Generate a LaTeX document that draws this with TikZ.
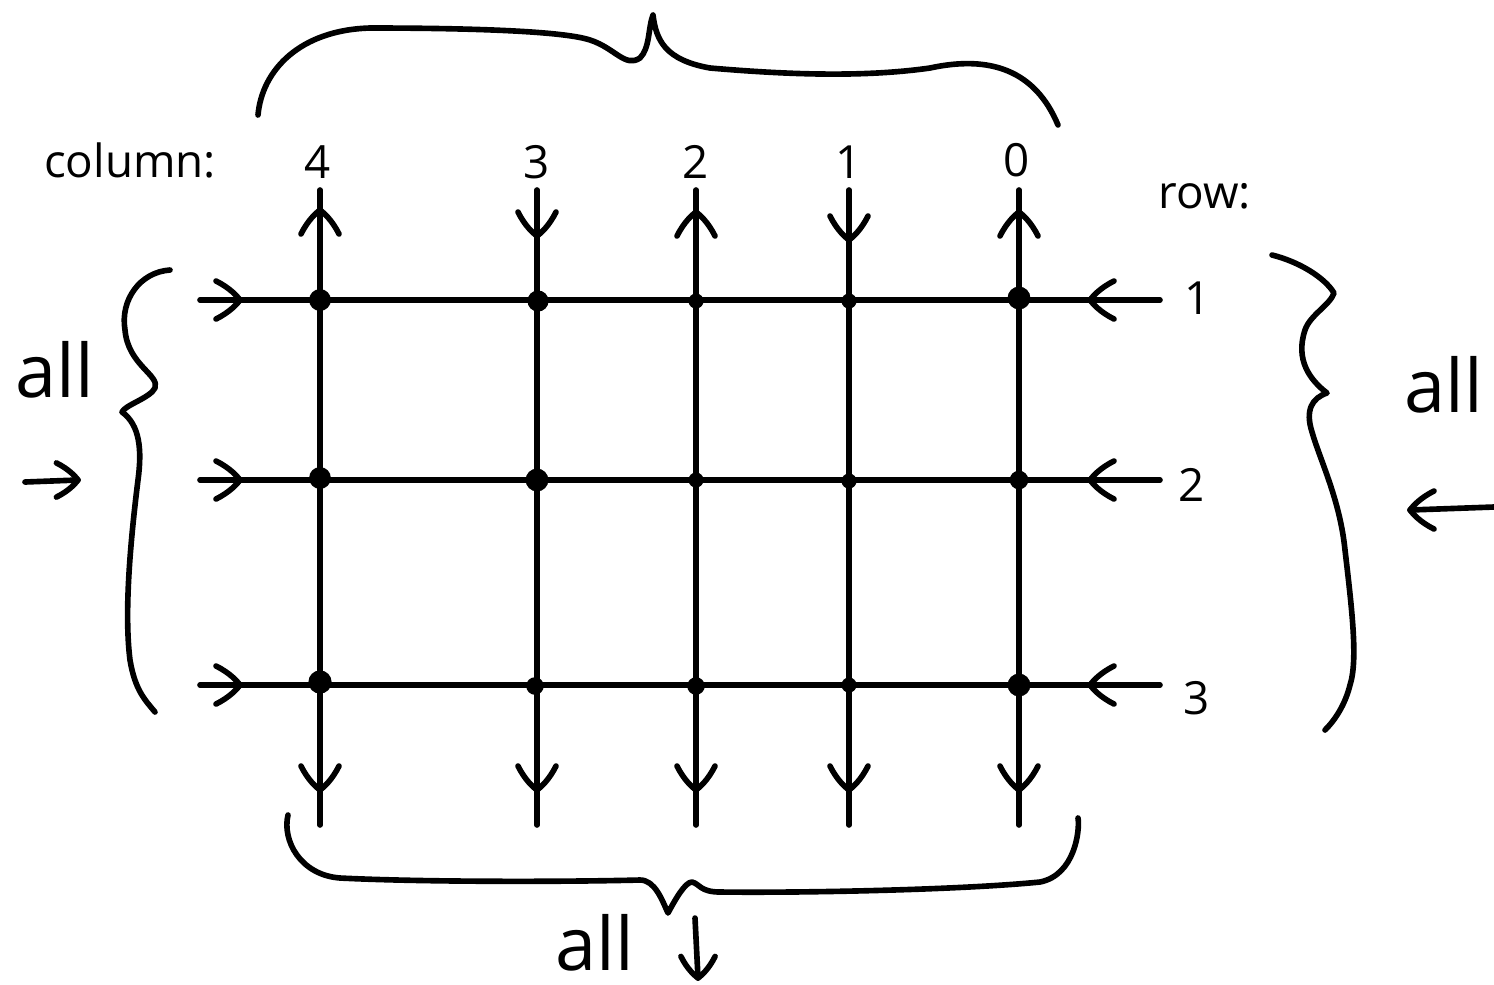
\documentclass[tikz,border=0pt]{standalone}
\usepackage{fontspec}
\setmainfont{Open Sans}
\begin{document}
\begin{tikzpicture}[x=0.01cm,y=-0.01cm,line width=1.6pt,line cap=round,line join=round,
  dotnode/.style={circle,fill=black,inner sep=0pt,minimum size=#1},
  lab/.style={font=\fontsize{13}{15}\selectfont,inner sep=1pt},
  biglab/.style={font=\fontsize{21}{24}\selectfont,inner sep=1pt},
  chev/.pic={\draw (-24,-19) .. controls (-10,-12) and (-3,-4) .. (0,0) .. controls (-3,4) and (-10,12) .. (-24,19);}]
\useasboundingbox (0,0) rectangle (1494,984);
\clip (0,0) rectangle (1494,984);
% column and row end points
\foreach \n/\x in {4/320,3/537,2/696,1/849,0/1019}{
  \coordinate (c\n t) at (\x,190);
  \coordinate (c\n b) at (\x,825);
}
\foreach \n/\y in {1/300,2/480,3/685}{
  \coordinate (r\n l) at (200,\y);
  \coordinate (r\n r) at (1160,\y);
}
% grid lines
\foreach \n in {4,3,2,1,0}{ \draw (c\n t) -- (c\n b); }
\foreach \n in {1,2,3}{ \draw (r\n l) -- (r\n r); }
% arrow heads on rows
\foreach \y in {300,480,685}{
  \pic at (240,\y) {chev};
  \pic[rotate=180] at (1090,\y) {chev};
}
% arrow heads on columns (top)
\pic[rotate=90] at (320,210) {chev};
\pic[rotate=-90] at (537,236) {chev};
\pic[rotate=90] at (696,212) {chev};
\pic[rotate=-90] at (849,240) {chev};
\pic[rotate=90] at (1019,212) {chev};
% arrow heads on columns (bottom)
\foreach \x in {320,537,696,849,1019}{ \pic[rotate=-90] at (\x,790) {chev}; }
% dots
\node[dotnode=6.2pt] (d41) at (320,300) {};
\node[dotnode=6pt] (d31) at (538,301) {};
\node[dotnode=4.3pt] (d21) at (696,301) {};
\node[dotnode=4.3pt] (d11) at (849,301) {};
\node[dotnode=6.5pt] (d01) at (1019,298) {};
\node[dotnode=6.2pt] (d42) at (320,478) {};
\node[dotnode=6.5pt] (d32) at (537,480) {};
\node[dotnode=4.3pt] (d22) at (696,480) {};
\node[dotnode=4.3pt] (d12) at (849,481) {};
\node[dotnode=5.3pt] (d02) at (1019,480) {};
\node[dotnode=6.6pt] (d43) at (320,682) {};
\node[dotnode=5pt] (d33) at (535,686) {};
\node[dotnode=5pt] (d23) at (696,686) {};
\node[dotnode=4.3pt] (d13) at (849,685) {};
\node[dotnode=6.5pt] (d03) at (1019,685) {};
% labels
\node[lab] (collab) at (130,160) {column:};
\node[lab] (n4) at (318,162) {4};
\node[lab] (n3) at (537,162) {3};
\node[lab] (n2) at (696,162) {2};
\node[lab] (n1) at (849,162) {1};
\node[lab] (n0) at (1017,160) {0};
\node[lab] (rowlab) at (1205,196) {row:};
\node[lab] (rl1) at (1198,298) {1};
\node[lab] (rl2) at (1192,485) {2};
\node[lab] (rl3) at (1197,698) {3};
\node[biglab] (allL) at (55,370) {all};
\node[biglab,anchor=west] (allR) at (1398,385) {all};
\node[biglab,anchor=base] (allB) at (595,970) {all};
% side arrows
\coordinate (laS) at (25,482); \coordinate (laE) at (78,480);
\draw (laS) -- (laE); \pic[scale=0.9] at (laE) {chev};
\coordinate (raS) at (1494,507); \coordinate (raE) at (1410,510);
\draw (raS) -- (raE); \pic[rotate=180] at (raE) {chev};
\coordinate (baS) at (695,918); \coordinate (baE) at (698,978);
\draw (baS) -- (baE); \pic[rotate=-90,scale=0.9] at (baE) {chev};
% top brace
\draw (258,115) .. controls (262,70) and (300,30) .. (370,28)
  .. controls (450,28) and (560,30) .. (590,40)
  .. controls (615,48) and (625,68) .. (640,58)
  .. controls (650,48) and (648,28) .. (653,15)
  .. controls (656,40) and (665,60) .. (710,68)
  .. controls (780,74) and (860,78) .. (930,68)
  .. controls (990,55) and (1035,70) .. (1058,125);
% left brace
\draw (170,270) .. controls (140,272) and (120,300) .. (125,330)
  .. controls (128,365) and (160,375) .. (155,388)
  .. controls (150,398) and (125,405) .. (122,412)
  .. controls (140,425) and (142,450) .. (138,480)
  .. controls (128,560) and (125,620) .. (130,660)
  .. controls (135,690) and (145,700) .. (155,712);
% right brace
\draw (1272,255) .. controls (1300,262) and (1325,278) .. (1334,293)
  .. controls (1330,305) and (1310,315) .. (1305,330)
  .. controls (1295,360) and (1310,380) .. (1327,393)
  .. controls (1312,398) and (1305,410) .. (1312,432)
  .. controls (1320,460) and (1340,500) .. (1345,550)
  .. controls (1352,610) and (1358,660) .. (1350,685)
  .. controls (1345,705) and (1335,720) .. (1325,730);
% bottom brace
\draw (288,815) .. controls (282,840) and (300,875) .. (340,878)
  .. controls (420,882) and (560,882) .. (640,880)
  .. controls (655,880) and (662,900) .. (668,913)
  .. controls (675,900) and (685,882) .. (692,882)
  .. controls (700,884) and (700,892) .. (720,892)
  .. controls (800,893) and (960,890) .. (1040,882)
  .. controls (1075,875) and (1080,830) .. (1078,818);
\end{tikzpicture}
\end{document}
